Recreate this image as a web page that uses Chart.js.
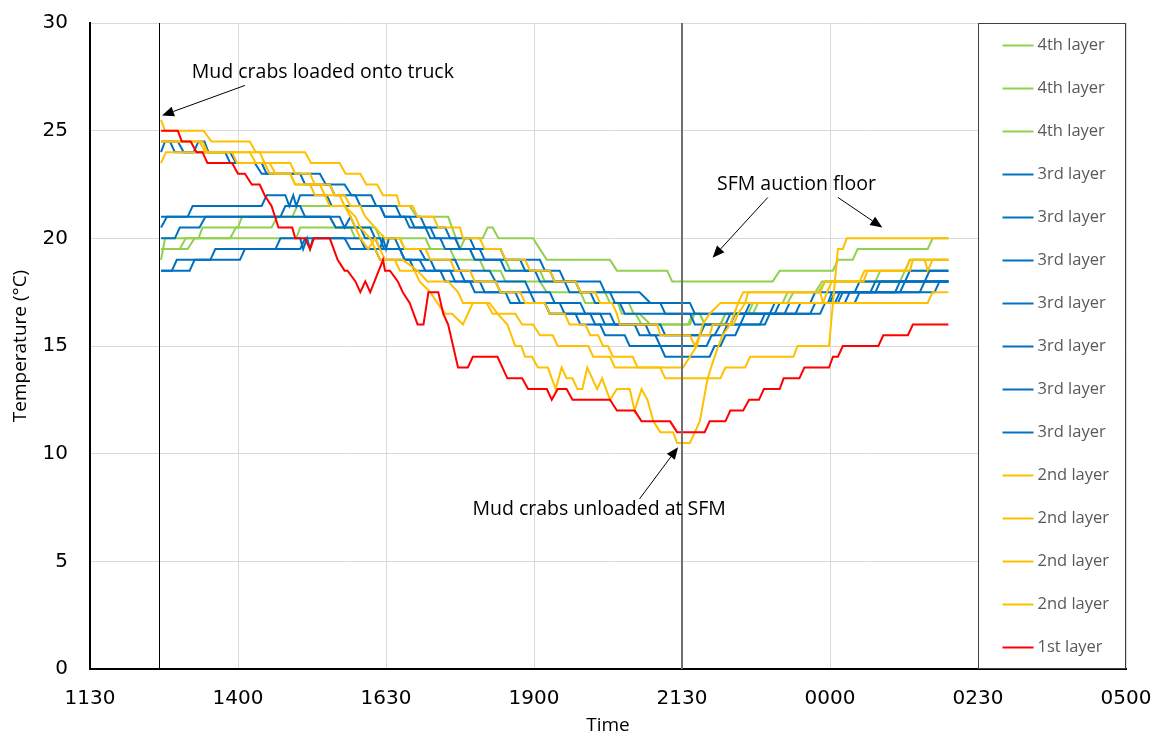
<!DOCTYPE html>
<html>
<head>
<meta charset="utf-8">
<script src="https://cdn.jsdelivr.net/npm/chart.js@4.4.1/dist/chart.umd.min.js"></script>
<style>
  html, body { margin: 0; padding: 0; background: #fff; }
  #wrap { width: 1159px; height: 738px; }
</style>
</head>
<body>
<div id="wrap"><canvas id="tempChart" width="1159" height="738"></canvas></div>
<script>
// [time, temperature] - time in minutes after midnight, counting on past 2400 (1440 = 0000)
const green1 = [[762,19.5],[789,19.5],[796,20],[800,20],[804,20.5],[840,20.5],[844,21],[895,21],[900,21.5],[1014,21.5],[1021,21],[1053,21],[1065,19.5],[1070,20],[1088,20],[1093,20.5],[1098,20.5],[1104,20],[1139,20],[1146,19.5],[1153,19],[1217,19],[1224,18.5],[1275,18.5],[1280,18],[1382,18],[1389,18.5],[1443,18.5],[1448,19],[1463,19],[1468,19.5],[1539,19.5],[1544,20],[1560,20]];
const green2 = [[762,19],[766,20],[899,20],[903,20.5],[954,20.5],[959,20],[1004,20],[1009,19.5],[1055,19.5],[1060,19],[1085,19],[1090,18.5],[1106,18.5],[1111,18],[1146,18],[1153,17.5],[1187,17.5],[1192,17],[1225,17],[1229,16.5],[1243,16.5],[1249,16],[1298,16],[1303,16.5],[1308,16.5],[1313,16],[1329,16],[1334,16.5],[1362,16.5],[1367,17],[1397,17],[1403,17.5],[1428,17.5],[1435,18],[1511,18],[1516,18.5],[1560,18.5]];
const green3 = [[762,19.5],[781,19.5],[787,20],[832,20],[838,20.5],[874,20.5],[880,21],[933,21],[939,20.5],[979,20.5],[984,20],[1030,20],[1035,19.5],[1075,19.5],[1080,19],[1111,19],[1116,18.5],[1146,18.5],[1151,18],[1182,18],[1187,17.5],[1212,17.5],[1217,17],[1236,17],[1241,16.5],[1247,16.5],[1258,16],[1296,16],[1301,16.5],[1308,16.5],[1313,16],[1329,16],[1334,16.5],[1357,16.5],[1362,17],[1392,17],[1397,17.5],[1425,17.5],[1432,18],[1486,18],[1491,18.5],[1516,18.5],[1521,19],[1560,19]];

const blue1 = [[762,24],[766,24.5],[779,24.5],[785,24],[795,24],[800,24.5],[806,24.5],[810,24],[832,24],[838,23.5],[864,23.5],[869,23],[923,23],[929,22.5],[948,22.5],[955,22],[975,22],[980,21.5],[1000,21.5],[1005,21],[1025,21],[1030,20.5],[1050,20.5],[1055,20],[1075,20],[1080,19.5],[1106,19.5],[1111,19],[1146,19],[1151,18.5],[1166,18.5],[1171,18],[1207,18],[1212,17.5],[1247,17.5],[1258,17],[1298,17],[1303,16.5],[1354,16.5],[1359,17],[1440,17],[1445,17.5],[1481,17.5],[1486,18],[1516,18],[1521,18.5],[1560,18.5]];
const blue2 = [[762,24.5],[771,24.5],[776,24],[827,24],[832,23.5],[857,23.5],[864,23],[903,23],[908,22.5],[933,22.5],[938,22],[959,22],[964,21.5],[984,21.5],[989,21],[1014,21],[1019,20.5],[1035,20.5],[1040,20],[1060,20],[1065,19.5],[1085,19.5],[1090,19],[1126,19],[1131,18.5],[1156,18.5],[1161,18],[1182,18],[1187,17.5],[1217,17.5],[1222,17],[1268,17],[1273,16.5],[1394,16.5],[1399,17],[1445,17],[1450,17.5],[1465,17.5],[1470,18],[1536,18],[1541,18.5],[1560,18.5]];
const blue3 = [[762,21],[789,21],[794,21.5],[864,21.5],[869,22],[888,22],[892,21.5],[896,22],[899,21.5],[903,22],[930,22],[935,21.5],[984,21.5],[989,21],[1009,21],[1014,20.5],[1030,20.5],[1035,20],[1045,20],[1050,19.5],[1075,19.5],[1080,19],[1106,19],[1111,18.5],[1141,18.5],[1146,18],[1171,18],[1176,17.5],[1197,17.5],[1202,17],[1227,17],[1232,16.5],[1298,16.5],[1303,16],[1339,16],[1344,16.5],[1420,16.5],[1425,17],[1438,17],[1442,17.5],[1486,17.5],[1491,18],[1560,18]];
const blue4 = [[762,20.5],[768,21],[933,21],[939,20.5],[964,20.5],[969,20],[984,20],[988,19.5],[1004,19.5],[1009,19],[1035,19],[1040,18.5],[1065,18.5],[1070,18],[1101,18],[1106,17.5],[1136,17.5],[1141,17],[1166,17],[1171,16.5],[1207,16.5],[1212,16],[1253,16],[1258,15.5],[1323,15.5],[1329,16],[1369,16],[1374,16.5],[1405,16.5],[1410,17],[1455,17],[1460,17.5],[1546,17.5],[1551,18],[1560,18]];
const blue5 = [[762,20],[776,20],[781,20.5],[801,20.5],[807,21],[883,21],[888,21.5],[903,21.5],[908,21],[943,21],[948,20.5],[954,21],[959,20.5],[974,20.5],[979,20],[984,19.5],[987,20],[990,19.5],[993,20],[999,20],[1004,19.5],[1024,19.5],[1030,19],[1060,19],[1065,18.5],[1095,18.5],[1101,18],[1131,18],[1136,17.5],[1156,17.5],[1161,17],[1187,17],[1192,16.5],[1217,16.5],[1222,16],[1242,16],[1247,15.5],[1263,15.5],[1268,15],[1315,15],[1320,15.5],[1331,15.5],[1336,16],[1349,16],[1354,16.5],[1384,16.5],[1389,17],[1448,17],[1453,17.5],[1506,17.5],[1511,18],[1560,18]];
const blue6 = [[762,18.5],[773,18.5],[778,19],[812,19],[817,19.5],[878,19.5],[883,20],[903,20],[906,19.5],[910,20],[913,19.5],[916,20],[964,20],[969,19.5],[1004,19.5],[1009,19],[1024,19],[1030,18.5],[1045,18.5],[1050,18],[1085,18],[1090,17.5],[1121,17.5],[1126,17],[1151,17],[1156,16.5],[1182,16.5],[1187,16],[1207,16],[1212,15.5],[1232,15.5],[1237,15],[1268,15],[1273,14.5],[1318,14.5],[1323,15],[1329,15],[1334,15.5],[1344,15.5],[1349,16],[1374,16],[1379,16.5],[1430,16.5],[1435,17],[1465,17],[1470,17.5],[1531,17.5],[1536,18],[1560,18]];
const blue7 = [[762,18.5],[791,18.5],[796,19],[842,19],[847,19.5],[903,19.5],[908,20],[948,20],[954,19.5],[979,19.5],[984,19],[1014,19],[1019,18.5],[1055,18.5],[1060,18],[1075,18],[1080,17.5],[1111,17.5],[1116,17],[1151,17],[1156,16.5],[1197,16.5],[1202,16],[1268,16],[1273,15.5],[1308,15.5],[1313,16],[1334,16],[1339,16.5],[1379,16.5],[1384,17],[1420,17],[1425,17.5],[1511,17.5],[1516,18],[1560,18]];

const yellow1 = [[762,25.5],[766,25],[805,25],[813,24.5],[852,24.5],[858,24],[908,24],[914,23.5],[943,23.5],[949,23],[964,23],[970,22.5],[981,22.5],[987,22],[1001,22],[1004,21.5],[1017,21.5],[1022,21],[1038,21],[1043,20.5],[1065,20.5],[1068,20],[1085,20],[1090,19.5],[1106,19.5],[1111,19],[1131,19],[1136,18.5],[1156,18.5],[1161,18],[1182,18],[1187,17.5],[1202,17.5],[1207,17],[1219,17],[1224,16.5],[1227,16],[1265,16],[1268,15.5],[1298,15.5],[1303,15],[1308,15.5],[1318,15.5],[1321,16],[1342,16],[1347,16.5],[1354,17],[1539,17],[1544,17.5],[1560,17.5]];
const yellow2 = [[762,24.5],[804,24.5],[809,24],[862,24],[867,23.5],[893,23.5],[898,23],[913,23],[918,22.5],[933,22.5],[938,22],[948,22],[954,21.5],[964,21.5],[969,21],[979,20.5],[989,20],[1004,20],[1009,19.5],[1030,19.5],[1035,19],[1055,19],[1060,18.5],[1075,18.5],[1080,18],[1101,18],[1106,17.5],[1126,17.5],[1131,17],[1151,17],[1156,16.5],[1171,16.5],[1176,16],[1192,16],[1197,15.5],[1205,15.5],[1210,15],[1215,15],[1220,14.5],[1240,14.5],[1245,14],[1291,14],[1298,14.5],[1305,15],[1311,16],[1318,16.5],[1329,17],[1354,17],[1357,17.5],[1430,17.5],[1433,17],[1437,17.5],[1442,18],[1470,18],[1475,18.5],[1516,18.5],[1521,19],[1536,19],[1539,18.5],[1544,19],[1560,19]];
const yellow3 = [[762,23.5],[767,24],[852,24],[858,23.5],[867,23.5],[872,23],[893,23],[898,22.5],[923,22.5],[928,22],[943,22],[948,21.5],[959,21],[964,20.5],[974,20],[984,19],[1007,19],[1022,18.5],[1032,18],[1053,18],[1063,17.5],[1068,17],[1092,17],[1098,16.5],[1121,16.5],[1128,16],[1139,16],[1146,15.5],[1159,15.5],[1164,15],[1195,15],[1200,14.5],[1217,14.5],[1222,14],[1268,14],[1273,13.5],[1329,13.5],[1334,14],[1354,14],[1359,14.5],[1403,14.5],[1407,15],[1439,15],[1443,17],[1448,19.5],[1453,19.5],[1457,20],[1560,20]];
const yellow4 = [[762,24.5],[801,24.5],[807,24],[834,24],[839,23.5],[872,23.5],[878,23],[893,23],[898,22.5],[913,22.5],[918,22],[928,22],[933,21.5],[948,21.5],[954,21],[959,20.5],[964,20],[972,19.5],[979,20],[984,19.5],[989,19],[999,19],[1004,18.5],[1019,18.5],[1024,18],[1035,17.5],[1042,17],[1050,16.5],[1057,16.5],[1068,16],[1078,17],[1095,17],[1103,16.5],[1113,16],[1121,15],[1127,15],[1131,14.5],[1138,14.5],[1144,14],[1154,14],[1162,13],[1168,14],[1173,13.5],[1179,13.5],[1184,13],[1189,13],[1194,14],[1204,13],[1209,13.5],[1217,12.5],[1224,13],[1237,13],[1242,12],[1249,13],[1255,12.5],[1261,11.5],[1268,11],[1281,11],[1285,10.5],[1298,10.5],[1308,11.5],[1316,13.5],[1323,14.5],[1331,15.5],[1339,16],[1347,17],[1352,17.5],[1430,17.5],[1435,18],[1474,18],[1478,18.5],[1521,18.5],[1524,19],[1560,19]];

const red1 = [[762,25],[779,25],[783,24.5],[792,24.5],[798,24],[804,24],[809,23.5],[834,23.5],[840,23],[847,23],[854,22.5],[862,22.5],[867,22],[874,21.5],[881,20.5],[895,20.5],[898,20],[908,20],[913,19.5],[917,20],[933,20],[941,19],[948,18.5],[951,18.5],[959,18],[964,17.5],[969,18],[974,17.5],[987,19],[989,18.5],[994,18.5],[1002,18],[1007,17.5],[1014,17],[1022,16],[1028,16],[1033,17.5],[1043,17.5],[1048,16.5],[1053,16],[1063,14],[1073,14],[1078,14.5],[1103,14.5],[1113,13.5],[1128,13.5],[1134,13],[1153,13],[1158,12.5],[1164,13],[1173,13],[1179,12.5],[1217,12.5],[1224,12],[1242,12],[1249,11.5],[1278,11.5],[1285,11],[1313,11],[1318,11.5],[1334,11.5],[1339,12],[1352,12],[1358,12.5],[1368,12.5],[1373,13],[1389,13],[1393,13.5],[1409,13.5],[1414,14],[1439,14],[1443,14.5],[1448,14.5],[1453,15],[1489,15],[1494,15.5],[1519,15.5],[1524,16],[1560,16]];

const seriesData = [green1, green2, green3, blue1, blue2, blue3, blue4, blue5, blue6, blue7, yellow1, yellow2, yellow3, yellow4, red1];
const seriesLabels = ['4th layer', '4th layer', '4th layer', '3rd layer', '3rd layer', '3rd layer', '3rd layer', '3rd layer', '3rd layer', '3rd layer', '2nd layer', '2nd layer', '2nd layer', '2nd layer', '1st layer'];
const seriesColors = ['#92d050', '#92d050', '#92d050', '#0070c0', '#0070c0', '#0070c0', '#0070c0', '#0070c0', '#0070c0', '#0070c0', '#ffc000', '#ffc000', '#ffc000', '#ffc000', '#ff0000'];

const xTicks = [690, 840, 990, 1140, 1290, 1440, 1590, 1740];
const yTicks = [0, 5, 10, 15, 20, 25, 30];
const loadedTime = 760;
const unloadedTime = 1290;
const legendFrom = 1590;

const notes = [
    { text: 'Mud crabs loaded onto truck', at: [926, 27.7], arrows: [[[847, 27.1], [763, 25.7]]] },
    { text: 'SFM auction floor', at: [1406, 22.5], arrows: [[[1377, 21.9], [1321, 19.1]], [[1448, 21.9], [1493, 20.5]]] },
    { text: 'Mud crabs unloaded at SFM', at: [1206, 7.4], arrows: [[[1247, 7.9], [1286, 10.3]]] }
];

function hhmm(t) {
    const m = ((t % 1440) + 1440) % 1440;
    return String(Math.floor(m / 60)).padStart(2, '0') + String(m % 60).padStart(2, '0');
}

function drawArrow(ctx, x1, y1, x2, y2) {
    const ang = Math.atan2(y2 - y1, x2 - x1);
    const len = 12, half = 5;
    const bx = x2 - len * Math.cos(ang), by = y2 - len * Math.sin(ang);
    ctx.beginPath();
    ctx.moveTo(x1, y1);
    ctx.lineTo(bx, by);
    ctx.stroke();
    ctx.beginPath();
    ctx.moveTo(x2, y2);
    ctx.lineTo(bx + half * Math.sin(ang), by - half * Math.cos(ang));
    ctx.lineTo(bx - half * Math.sin(ang), by + half * Math.cos(ang));
    ctx.closePath();
    ctx.fill();
}

const overlay = {
    id: 'overlay',
    afterDatasetsDraw(chart) {
        const { ctx, chartArea: a, scales: { x } } = chart;
        ctx.save();
        let px = Math.round(x.getPixelForValue(loadedTime)) + 0.5;
        ctx.strokeStyle = '#000';
        ctx.lineWidth = 1;
        ctx.beginPath(); ctx.moveTo(px, a.top); ctx.lineTo(px, a.bottom); ctx.stroke();
        px = Math.round(x.getPixelForValue(unloadedTime));
        ctx.strokeStyle = '#707070';
        ctx.lineWidth = 2;
        ctx.beginPath(); ctx.moveTo(px, a.top); ctx.lineTo(px, a.bottom); ctx.stroke();
        ctx.restore();
    },
    afterDraw(chart) {
        const { ctx, chartArea: a, scales: { x, y } } = chart;
        ctx.save();

        // annotations
        ctx.fillStyle = '#000';
        ctx.strokeStyle = '#000';
        ctx.lineWidth = 1;
        ctx.font = '19.5px "Open Sans"';
        ctx.textAlign = 'center';
        ctx.textBaseline = 'middle';
        notes.forEach(n => {
            ctx.fillText(n.text, x.getPixelForValue(n.at[0]), y.getPixelForValue(n.at[1]));
            n.arrows.forEach(([from, to]) => {
                drawArrow(ctx, x.getPixelForValue(from[0]), y.getPixelForValue(from[1]),
                    x.getPixelForValue(to[0]), y.getPixelForValue(to[1]));
            });
        });

        // legend box
        const left = Math.round(x.getPixelForValue(legendFrom)) + 0.5;
        const right = Math.round(a.right) - 0.5;
        ctx.fillStyle = '#fff';
        ctx.fillRect(left, a.top, right - left, a.bottom - a.top);
        ctx.strokeStyle = '#404040';
        ctx.lineWidth = 1;
        ctx.strokeRect(left, a.top + 0.5, right - left, a.bottom - a.top - 1);

        const rowH = (a.bottom - a.top) / seriesLabels.length;
        ctx.font = '16.5px "Open Sans"';
        ctx.textAlign = 'left';
        ctx.textBaseline = 'middle';
        seriesLabels.forEach((label, i) => {
            const ry = Math.round(a.top + rowH * (i + 0.5)) + 0.5;
            ctx.strokeStyle = seriesColors[i];
            ctx.lineWidth = 2;
            ctx.beginPath();
            ctx.moveTo(left + 24, ry);
            ctx.lineTo(left + 55, ry);
            ctx.stroke();
            ctx.fillStyle = '#595959';
            ctx.fillText(label, left + 59, ry);
        });
        ctx.restore();
    }
};

const tickFont = { family: '"DejaVu Sans"', size: 20 };

new Chart(document.getElementById('tempChart').getContext('2d'), {
    type: 'line',
    data: {
        datasets: seriesData.map((pts, i) => ({
            label: seriesLabels[i],
            data: pts.map(p => ({ x: p[0], y: p[1] })),
            borderColor: seriesColors[i],
            borderWidth: 2,
            pointRadius: 0,
            tension: 0,
            fill: false,
            order: seriesData.length - i
        }))
    },
    options: {
        responsive: false,
        animation: false,
        devicePixelRatio: 1,
        layout: { padding: { top: 23, right: 33, left: 0, bottom: 0 } },
        plugins: {
            legend: { display: false },
            tooltip: { enabled: false }
        },
        scales: {
            x: {
                type: 'linear',
                min: xTicks[0],
                max: xTicks[xTicks.length - 1],
                afterBuildTicks: s => { s.ticks = xTicks.map(v => ({ value: v })); },
                afterFit: s => { s.height = 69; s.paddingLeft = 0; s.paddingRight = 0; },
                ticks: {
                    callback: v => hhmm(v),
                    font: tickFont,
                    color: '#000',
                    padding: 18,
                    maxRotation: 0
                },
                grid: { color: '#d9d9d9', drawTicks: false },
                border: { color: '#000', width: 2 },
                title: {
                    display: true,
                    text: 'Time',
                    font: { family: '"Open Sans"', size: 19 },
                    color: '#000',
                    padding: { top: 0, bottom: 1 }
                }
            },
            y: {
                min: yTicks[0],
                max: yTicks[yTicks.length - 1],
                afterBuildTicks: s => { s.ticks = yTicks.map(v => ({ value: v })); },
                afterFit: s => { s.width = 90; s.paddingTop = 0; s.paddingBottom = 0; },
                ticks: {
                    font: tickFont,
                    color: '#000',
                    padding: 22
                },
                grid: { color: '#d9d9d9', drawTicks: false },
                border: { color: '#000', width: 2 },
                title: {
                    display: true,
                    text: 'Temperature (°C)',
                    font: { family: '"Open Sans"', size: 19 },
                    color: '#000',
                    padding: { top: 9, bottom: 0 }
                }
            }
        }
    },
    plugins: [overlay]
});
</script>
</body>
</html>
